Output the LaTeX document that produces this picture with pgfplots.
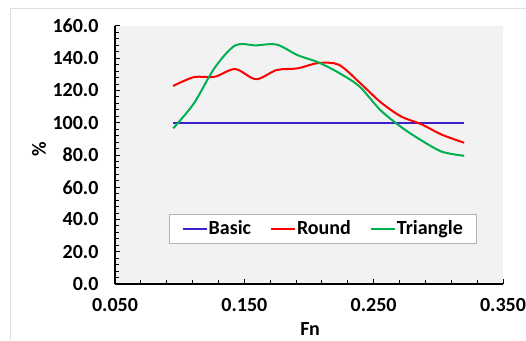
\documentclass[border=0pt]{standalone}
\usepackage{fontspec}
\setmainfont{Carlito}
\usepackage{pgfplots}
\pgfplotsset{compat=1.18}
\definecolor{cblue}{RGB}{64,32,200}
\definecolor{cred}{RGB}{255,0,0}
\definecolor{cgreen}{RGB}{0,176,80}
\newcommand{\lf}{\fontsize{20}{24}\selectfont\bfseries}
\begin{document}
\begin{tikzpicture}
\useasboundingbox (-115pt,-56pt) rectangle (411pt,284pt);
\draw[gray!25, line width=1pt] (-104pt,-56pt) -- (-104pt,275pt) -- (411pt,275pt);
\begin{axis}[
  scale only axis, width=388pt, height=258pt,
  at={(0pt,0pt)}, anchor=south west,
  xmin=0.05, xmax=0.35, ymin=0, ymax=160,
  xtick={0.05,0.15,0.25,0.35}, minor x tick num=4,
  ytick={0,20,...,160}, minor y tick num=4,
  axis x line*=bottom, axis y line*=left,
  axis line style={-, line width=1.2pt, black},
  tick align=inside, major tick length=5pt, minor tick length=4pt,
  every tick/.style={black, line width=1pt},
  axis background/.style={fill=gray!10},
  /pgf/number format/assume math mode=true,
  xticklabel style={font=\lf, yshift=-11pt, /pgf/number format/.cd, fixed, fixed zerofill, precision=3},
  yticklabel style={font=\lf, xshift=-13pt, /pgf/number format/.cd, fixed, fixed zerofill, precision=1},
  scaled x ticks=false,
  xlabel={Fn}, ylabel={\%},
  xlabel style={font=\lf, at={(axis description cs:0.503,-0.176)}, anchor=center},
  ylabel style={font=\lf, at={(axis description cs:-0.196,0.523)}, anchor=center},
  legend columns=3,
  legend style={at={(axis description cs:0.5355,0.2145)}, anchor=center,
    draw=gray!60, fill=white, font=\lf, inner xsep=12pt, inner ysep=6pt,
    nodes={inner sep=1pt},
    /tikz/every even column/.append style={column sep=18pt}},
  legend image code/.code={\draw[#1] (0pt,0pt) -- (24pt,0pt);},
]
\addplot[cblue, line width=2pt] coordinates {(0.095,100) (0.320,100)};
\addlegendentry{Basic}
\addplot[cred, line width=2pt, smooth, tension=0.5] coordinates {
(0.095,122.8) (0.111,128.3) (0.127,128.5) (0.143,133.3) (0.159,127.0)
(0.175,132.7) (0.191,133.7) (0.207,137.0) (0.223,136.0) (0.239,125.0)
(0.255,113.0) (0.271,104.0) (0.287,99.0) (0.303,92.5) (0.320,87.6)};
\addlegendentry{Round}
\addplot[cgreen, line width=2pt, smooth, tension=0.5] coordinates {
(0.095,96.5) (0.111,112.0) (0.127,134.0) (0.143,148.0) (0.159,148.0)
(0.175,148.5) (0.191,142.0) (0.207,137.5) (0.223,131.0) (0.239,122.5)
(0.255,108.0) (0.271,97.5) (0.287,89.0) (0.303,82.0) (0.320,79.5)};
\addlegendentry{Triangle}
\end{axis}
\end{tikzpicture}
\end{document}
